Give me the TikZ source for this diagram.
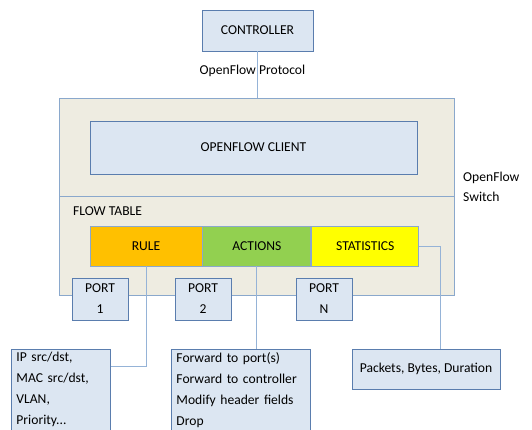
\documentclass[tikz,border=0pt]{standalone}
\usepackage{fontspec}
\setmainfont{Carlito}
\usetikzlibrary{positioning}
\definecolor{boxfill}{HTML}{DCE6F2}
\definecolor{boxline}{HTML}{5A7DAE}
\definecolor{switchfill}{HTML}{EEECE1}
\definecolor{switchline}{HTML}{8AA8CC}
\definecolor{wirecol}{HTML}{95B3D7}
\definecolor{rulefill}{HTML}{FFC000}
\definecolor{actfill}{HTML}{92D050}
\definecolor{statfill}{HTML}{FFFF00}
\tikzstyle{unit} = [
    rectangle,
    draw=boxline,
    fill=boxfill,
    line width=0.9pt,
    inner sep=0pt
]
\tikzstyle{entry} = [
    rectangle,
    draw=switchline,
    line width=0.9pt,
    minimum height=40pt,
    inner sep=0pt
]
\tikzstyle{port} = [
    unit,
    minimum width=56pt,
    minimum height=42pt,
    align=center,
    font=\fontsize{13.6}{21}\selectfont
]
\tikzstyle{detail} = [
    unit,
    anchor=north west,
    align=left,
    inner xsep=5pt,
    inner ysep=3pt,
    font=\fontsize{13.6}{21}\selectfont
]
\tikzstyle{wire} = [draw=wirecol, line width=0.9pt]

\begin{document}
\begin{tikzpicture}[x=1pt, y=-1pt, font=\fontsize{13.6}{15}\selectfont]
\useasboundingbox (0,0) rectangle (532,429);

\node (controller) [unit, minimum width=111pt, minimum height=41pt]
at (257.5,30.5) {CONTROLLER};

\node (switch) [rectangle, draw=switchline, fill=switchfill, line width=0.9pt,
minimum width=395pt, minimum height=197pt] at (256.5,196.5) {};

\node (client) [unit, minimum width=327pt, minimum height=53pt]
at (253.5,147.5) {OPENFLOW CLIENT};

\coordinate (divleft) at (59,196);
\coordinate (divright) at (454,196);
\draw [draw=switchline, line width=0.9pt] (divleft) -- (divright);

\node (flowtable) [anchor=west, inner sep=0pt] at (73,211) {FLOW TABLE};

\node (switchlabel) [anchor=west, align=left, inner sep=0pt,
font=\fontsize{13.6}{20}\selectfont] at (463,187) {OpenFlow\\Switch};

\node (rule) [entry, fill=rulefill, minimum width=112pt] at (146,246) {RULE};
\node (actions) [entry, fill=actfill, minimum width=108pt, right=0pt of rule] {ACTIONS};
\node (stats) [entry, fill=statfill, minimum width=107pt, right=0pt of actions] {STATISTICS};

\node (rulebox) [detail, text width=89pt] at (11,349)
{IP src/dst,\\MAC src/dst,\\VLAN,\\Priority...};
\node (actbox) [detail, text width=129pt] at (171,349)
{Forward to port(s)\\Forward to controller\\Modify header fields\\Drop};
\node (statbox) [unit, minimum width=148pt, minimum height=40pt]
at (426,369) {Packets, Bytes, Duration};

\draw [wire] (controller.south) -- (controller.south |- switch.north)
node [pos=0.43, inner sep=0pt, xshift=-5pt] {OpenFlow Protocol};
\draw [wire] (rule.south) |- ([yshift=-17pt]rulebox.north east);
\draw [wire] (actions.south) -- (actions.south |- actbox.north);
\draw [wire] (stats.east) -| ([xshift=14pt]statbox.north);

\node (port1) [port] at (100,299) {PORT\\1};
\node (port2) [port] at (203,299) {PORT\\2};
\node (portn) [port] at (324,299) {PORT\\N};

\end{tikzpicture}
\end{document}
